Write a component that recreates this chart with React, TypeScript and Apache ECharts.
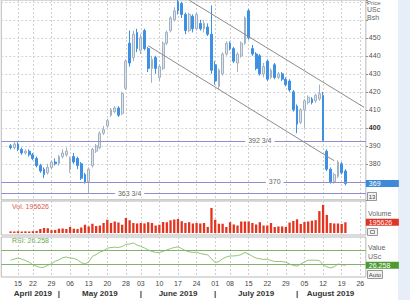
import React, { useEffect, useRef } from "react";
import * as echarts from "echarts";

// ---- categories (trading days, 2019) ----
const MONTH_NUM = [4, 5, 6, 7, 8];
const MONTH_NAMES = ["April 2019", "May 2019", "June 2019", "July 2019", "August 2019"];
const APR = [9, 10, 11, 12, 15, 16, 17, 18, 22, 23, 24, 25, 26, 29, 30];
const MAY = [1, 2, 3, 6, 7, 8, 9, 10, 13, 14, 15, 16, 17, 20, 21, 22, 23, 24, 28, 29, 30, 31];
const JUN = [3, 4, 5, 6, 7, 10, 11, 12, 13, 14, 17, 18, 19, 20, 21, 24, 25, 26, 27, 28];
const JUL = [1, 2, 3, 5, 8, 9, 10, 11, 12, 15, 16, 17, 18, 19, 22, 23, 24, 25, 26, 29, 30, 31];
const AUG = [1, 2, 5, 6, 7, 8, 9, 12, 13, 14, 15, 16, 19, 20, 21, 22, 23, 26, 27];
const MONTH_DAYS = [APR, MAY, JUN, JUL, AUG];
const DATA_START = "04-11";

// ---- series values (Apr 11 .. Aug 20) ----
const OPEN = [
  390, 389, 391, 388, 386, 387, 385, 383, 379, 377,
  375, 378, 381, 380, 384, 385, 377, 384, 383, 380,
  374, 370, 379, 387, 389, 397, 401, 407, 409, 411,
  408, 422, 447, 439, 453, 443, 454, 444, 433, 439,
  428, 433, 447, 454, 460, 470, 469, 463, 454, 462,
  455, 458, 455, 456, 452, 435, 423, 430, 441, 447,
  444, 436, 440, 447, 465, 444, 441, 440, 430, 437,
  428, 435, 428, 430, 427, 426, 420, 412, 403, 410,
  414, 416, 415, 416, 418, 387, 377, 370, 373, 380,
  376,
];
const CLOSE = [
  389, 391, 388, 386, 387, 385, 383, 379, 376, 374,
  378, 381, 380, 384, 386, 387, 383, 381, 379, 372,
  370, 377, 388, 390, 397, 399, 404, 410, 411, 407,
  419, 437, 436, 452, 444, 450, 444, 433, 438, 433,
  434, 447, 453, 461, 465, 465, 463, 454, 463, 455,
  463, 455, 458, 452, 432, 426, 432, 441, 447, 444,
  437, 441, 447, 461, 450, 441, 433, 430, 434, 427,
  432, 428, 430, 427, 424, 421, 410, 402, 410, 415,
  417, 414, 418, 419, 393, 377, 370, 374, 381, 375,
  369,
];
const LOW = [
  388, 388, 387, 385, 385, 384, 382, 378, 375, 372,
  374, 377, 379, 379, 383, 384, 375, 380, 377, 371,
  369, 363.75, 378, 386, 388, 396, 400, 406, 408, 406,
  407, 421, 434, 437, 442, 441, 443, 431, 425, 430,
  426, 432, 446, 453, 459, 463, 461, 452, 453, 453,
  454, 454, 453, 451, 430, 424, 421, 429, 440, 443,
  436, 431, 439, 446, 449, 440, 432, 429, 428, 426,
  427, 427, 427, 426, 423, 420, 409, 397, 402, 400,
  413, 413, 414, 415, 392.75, 376, 369, 369, 372, 374,
  368,
];
const HIGH = [
  391, 392, 392, 389, 388, 388, 386, 384, 380, 378,
  380, 382, 383, 385, 388, 389, 384, 386, 384, 381,
  375, 378, 389, 391, 398, 401, 405, 411, 412, 412,
  420, 438, 454, 454, 455, 452, 455, 445, 440, 440,
  435, 448, 454, 462, 467, 472, 470, 464, 464, 463,
  464, 460, 460, 458, 468, 437, 433, 442, 448, 448,
  445, 442, 448, 462, 466, 446, 442, 441, 436, 438,
  433, 436, 431, 431, 428, 427, 421, 413, 411, 416,
  418, 417, 419, 424, 420, 388, 378, 375, 382, 381,
  377,
];
const VOLUME = [
  29000, 27000, 32000, 26000, 30000, 27000, 33000, 37000, 73000, 92000,
  87000, 50000, 55000, 78000, 82000, 73000, 110000, 78000, 73000, 101000,
  151000, 119000, 169000, 128000, 137000, 183000, 242000, 183000, 210000, 192000,
  151000, 275000, 233000, 183000, 174000, 183000, 174000, 197000, 183000, 137000,
  151000, 201000, 197000, 233000, 247000, 256000, 215000, 183000, 197000, 174000,
  183000, 174000, 183000, 110000, 458000, 242000, 169000, 169000, 110000, 197000,
  156000, 137000, 210000, 210000, 210000, 183000, 156000, 197000, 137000, 137000,
  183000, 110000, 119000, 119000, 110000, 190000, 220000, 250000, 165000, 200000,
  210000, 225000, 235000, 400000, 515000, 330000, 183000, 174000, 174000, 165000,
  195626,
];
const RSI = [
  41, 44, 47, 44, 40, 35, 28, 24, 20, 21,
  26, 31, 38, 42, 48, 50, 47, 46, 42, 34,
  30, 36, 52, 57, 64, 68, 75, 77, 78, 77,
  80, 86, 87, 90, 84, 80, 76, 70, 66, 63,
  63, 66, 70, 74, 77, 79, 74, 68, 65, 63,
  64, 60, 58, 56, 45, 34, 37, 45, 50, 53,
  53, 54, 57, 63, 58, 52, 47, 45, 43, 44,
  40, 37, 37, 37, 35, 30, 26, 24, 30, 36,
  41, 41, 41, 40, 27, 22, 19, 22, 30, 28,
  26.258,
];

// ---- annotations ----
const LEVELS = [392.75, 370, 363.75];
const LEVEL_LABELS = ["392 3/4", "370", "363 3/4"];
const LEVEL_LABEL_AT = ["07-18", "07-24", "05-29"];
const CHANNEL_UPPER: [string, number][] = [["06-20", 470.9], ["08-27", 411.4]];
const CHANNEL_LOWER: [string, number][] = [["06-05", 445.6], ["08-15", 381.7]];
const RSI_LEVELS = [70, 30];
const PRICE_LABELS_SHOWN = [380, 390, 400, 410, 420, 430, 440, 450];

const pad = (n: number) => (n < 10 ? "0" + n : "" + n);
const CATEGORIES: string[] = MONTH_DAYS.flatMap((days, mi) => days.map((d) => `${pad(MONTH_NUM[mi])}-${pad(d)}`));
const startIdx = CATEGORIES.indexOf(DATA_START);

const dow = (c: string) => {
  const [m, d] = c.split("-").map(Number);
  return new Date(2019, m - 1, d).getDay();
};
const WEEK_SET = new Set<string>();
CATEGORIES.forEach((c, i) => {
  if (i > 0 && dow(c) < dow(CATEGORIES[i - 1])) WEEK_SET.add(c);
});
const MONTH_START = new Set<string>();
const MONTH_CENTER = new Map<string, string>();
{
  let offset = 0;
  MONTH_DAYS.forEach((days, mi) => {
    const first = offset;
    const last = offset + days.length - 1;
    if (mi > 0) MONTH_START.add(CATEGORIES[first]);
    const c = Math.ceil((Math.max(first, startIdx) + last) / 2);
    MONTH_CENTER.set(CATEGORIES[c], MONTH_NAMES[mi]);
    offset += days.length;
  });
}

const n = CLOSE.length;
const candleData = CATEGORIES.map((_, i) => {
  const k = i - startIdx;
  return k >= 0 && k < n ? [OPEN[k], CLOSE[k], LOW[k], HIGH[k]] : "-";
});
const volData = CATEGORIES.map((_, i) => {
  const k = i - startIdx;
  return k >= 0 && k < n ? VOLUME[k] : "-";
});
const rsiData = CATEGORIES.map((_, i) => {
  const k = i - startIdx;
  return k >= 0 && k < n ? RSI[k] : "-";
});
const lastClose = CLOSE[n - 1];
const lastVol = VOLUME[n - 1];
const lastRsi = RSI[n - 1];

const FONT = "Liberation Sans";
const weekFn = (_i: number, v: string) => WEEK_SET.has(v);
const monthFn = (_i: number, v: string) => MONTH_START.has(v) || MONTH_CENTER.has(v);

const GL = 1.26;
const GW = 364.6;

const gridBase = { left: GL, width: GW, show: true, borderColor: "#b8b8b8", borderWidth: 1 };
const vSplit = {
  show: true,
  interval: weekFn,
  alignWithLabel: true,
  lineStyle: { color: "#cfcfcf", type: [2, 2] as any, width: 1 },
};
const baseX = (gridIndex: number) => ({
  type: "category" as const,
  gridIndex,
  data: CATEGORIES,
  boundaryGap: true,
  position: "bottom" as const,
  axisLine: { show: false },
  axisTick: { show: false },
  axisLabel: { show: false },
  splitLine: vSplit,
});

const valueBox = (value: number, text: string, bg: string) => ({
  yAxis: value,
  lineStyle: { color: "rgba(0,0,0,0)", width: 0 },
  label: {
    show: true,
    position: "end",
    distance: 0,
    formatter: text,
    color: "#fff",
    backgroundColor: bg,
    fontSize: 7,
    fontFamily: FONT,
    lineHeight: 7,
    width: 27,
    align: "left",
    padding: [0, 3, 0, 3],
  },
});

const option: any = {
  animation: false,
  backgroundColor: "#fff",
  textStyle: { fontFamily: FONT },
  grid: [
    { ...gridBase, top: 0, height: 199.8 },
    { ...gridBase, top: 201, height: 34 },
    { ...gridBase, top: 237, height: 40 },
  ],
  xAxis: [
    baseX(0),
    baseX(1),
    {
      ...baseX(2),
      axisLabel: {
        show: true,
        interval: weekFn,
        formatter: (v: string) => v.split("-")[1],
        fontSize: 7,
        color: "#444",
        margin: 3,
        fontFamily: FONT,
      },
    },
    {
      type: "category",
      gridIndex: 2,
      data: CATEGORIES,
      boundaryGap: true,
      position: "bottom",
      offset: 10,
      axisLine: { show: false },
      axisTick: { show: false },
      splitLine: { show: false },
      axisLabel: {
        show: true,
        interval: monthFn,
        formatter: (v: string) => MONTH_CENTER.get(v) ?? "|",
        fontSize: 8,
        fontWeight: "bold",
        color: "#333",
        margin: 2,
        fontFamily: FONT,
      },
    },
  ],
  yAxis: [
    {
      type: "value",
      gridIndex: 0,
      position: "right",
      min: 360,
      max: 471,
      interval: 10,
      axisLine: { show: false },
      axisTick: { show: true, length: 2, lineStyle: { color: "#888" } },
      axisLabel: {
        fontSize: 7,
        color: "#555",
        margin: 3,
        fontFamily: FONT,
        formatter: (v: number) =>
          v === 400 ? "{b|400}" : PRICE_LABELS_SHOWN.includes(v) ? String(v) : "",
        rich: { b: { fontSize: 7, fontWeight: "bold", color: "#333", fontFamily: FONT } },
      },
      splitLine: { show: true, lineStyle: { color: "#d4d4d4", type: [2, 2] } },
    },
    {
      type: "value",
      gridIndex: 1,
      position: "right",
      min: -37000,
      max: 585000,
      axisLine: { show: false },
      axisTick: { show: false },
      axisLabel: { show: false },
      splitLine: { show: false },
    },
    {
      type: "value",
      gridIndex: 2,
      position: "right",
      min: -7,
      max: 107,
      axisLine: { show: false },
      axisTick: { show: false },
      axisLabel: { show: false },
      splitLine: { show: false },
    },
  ],
  series: [
    {
      type: "candlestick",
      xAxisIndex: 0,
      yAxisIndex: 0,
      data: candleData,
      barWidth: "62%",
      itemStyle: {
        color: "#dde4ec",
        color0: "#3d90e4",
        borderColor: "#a3b2c2",
        borderColor0: "#3d90e4",
        borderWidth: 1,
      },
      markLine: {
        silent: true,
        symbol: ["none", "none"],
        animation: false,
        label: { show: false },
        data: [
          ...LEVELS.map((v) => ({
            yAxis: v,
            lineStyle: { color: "#8e8ed2", width: 1, type: "solid" },
            label: { show: false },
          })),
          [
            { coord: CHANNEL_UPPER[0], lineStyle: { color: "#8c8c8c", width: 1, type: "solid" } },
            { coord: CHANNEL_UPPER[1], lineStyle: { color: "#8c8c8c", width: 1, type: "solid" } },
          ],
          [
            { coord: CHANNEL_LOWER[0], lineStyle: { color: "#8c8c8c", width: 1, type: "solid" } },
            { coord: CHANNEL_LOWER[1], lineStyle: { color: "#8c8c8c", width: 1, type: "solid" } },
          ],
          valueBox(lastClose, String(lastClose), "#3d8ad8"),
        ],
      },
      markPoint: {
        silent: true,
        symbol: "rect",
        symbolSize: 1,
        itemStyle: { color: "rgba(0,0,0,0)" },
        data: LEVELS.map((v, i) => ({
          name: LEVEL_LABELS[i],
          coord: [LEVEL_LABEL_AT[i], v],
          label: {
            show: true,
            position: "inside",
            formatter: "{b}",
            color: "#666",
            fontSize: 7,
            fontFamily: FONT,
            backgroundColor: "#fff",
            padding: [0, 3, 0, 3],
          },
        })),
      },
    },
    {
      type: "bar",
      xAxisIndex: 1,
      yAxisIndex: 1,
      data: volData,
      barWidth: "62%",
      itemStyle: { color: "#e3341f" },
      markLine: {
        silent: true,
        symbol: ["none", "none"],
        animation: false,
        data: [valueBox(lastVol, String(lastVol), "#df3424")],
      },
    },
    {
      type: "line",
      xAxisIndex: 2,
      yAxisIndex: 2,
      data: rsiData,
      symbol: "none",
      lineStyle: { color: "#92c47a", width: 1 },
      markLine: {
        silent: true,
        symbol: ["none", "none"],
        animation: false,
        data: [
          ...RSI_LEVELS.map((v) => ({
            yAxis: v,
            lineStyle: { color: "#86b06f", width: 1, type: "solid" },
            label: { show: false },
          })),
          valueBox(lastRsi, lastRsi.toFixed(3), "#4e9a32"),
        ],
      },
    },
  ],
  graphic: [
    { type: "rect", left: 398, top: 0, shape: { width: 12, height: 300 }, style: { fill: "#e8eef7" }, z: 0 },
    { type: "text", x: 367, y: 0, style: { text: "Price", fontSize: 6, fill: "#666", fontFamily: FONT } },
    { type: "text", x: 367, y: 6, style: { text: "USc", fontSize: 7, fill: "#666", fontFamily: FONT } },
    { type: "text", x: 367, y: 14, style: { text: "Bsh", fontSize: 7, fill: "#666", fontFamily: FONT } },
    { type: "text", x: 12, y: 203, style: { text: `Vol. ${lastVol}`, fontSize: 7, fill: "#d95a4c", fontFamily: FONT } },
    { type: "text", x: 12, y: 237, style: { text: `RSI: ${lastRsi.toFixed(3)}`, fontSize: 7, fill: "#6aa84f", fontFamily: FONT } },
    { type: "text", x: 368, y: 210, style: { text: "Volume", fontSize: 7, fill: "#666", fontFamily: FONT } },
    { type: "text", x: 368, y: 244, style: { text: "Value", fontSize: 7, fill: "#666", fontFamily: FONT } },
    { type: "text", x: 368, y: 253, style: { text: "USc", fontSize: 7, fill: "#666", fontFamily: FONT } },
    {
      type: "group",
      x: 367.5,
      y: 192.5,
      children: [
        { type: "rect", shape: { width: 9, height: 8 }, style: { fill: "#f2f2f2", stroke: "#999", lineWidth: 1 } },
        { type: "text", x: 4.5, y: 4, style: { text: "13", fontSize: 6, fill: "#444", align: "center", verticalAlign: "middle", fontFamily: FONT } },
      ],
    },
    {
      type: "group",
      x: 367.5,
      y: 228.5,
      children: [
        { type: "rect", shape: { width: 10, height: 7 }, style: { fill: "#f2f2f2", stroke: "#999", lineWidth: 1 } },
        { type: "rect", shape: { x: 3, y: 2, width: 4, height: 3 }, style: { fill: "none", stroke: "#777", lineWidth: 0.8 } },
      ],
    },
    {
      type: "group",
      x: 367.5,
      y: 270.5,
      children: [
        { type: "rect", shape: { width: 15, height: 8 }, style: { fill: "#f2f2f2", stroke: "#999", lineWidth: 1 } },
        { type: "text", x: 7.5, y: 4, style: { text: "Auto", fontSize: 6, fill: "#444", align: "center", verticalAlign: "middle", fontFamily: FONT } },
      ],
    },
  ],
};

export default function App() {
  const ref = useRef<HTMLDivElement>(null);
  useEffect(() => {
    if (!ref.current) return;
    const chart = echarts.init(ref.current, null, { renderer: "svg" });
    chart.setOption(option);
    return () => chart.dispose();
  }, []);
  return (
    <div
      ref={ref}
      style={{ position: "fixed", left: 0, top: 0, width: 410, height: 300, background: "#fff" }}
    />
  );
}
